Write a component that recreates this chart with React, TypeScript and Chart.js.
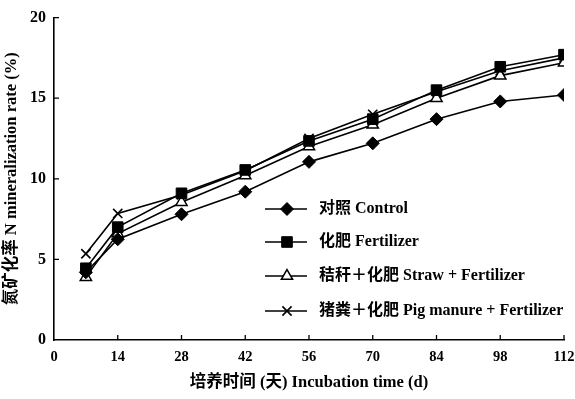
import React, { useEffect, useRef } from "react";
import { Chart, registerables } from "chart.js";

Chart.register(...registerables);

const days = [7, 14, 28, 42, 56, 70, 84, 98, 112];
const xTicks = [0, 14, 28, 42, 56, 70, 84, 98, 112];
const yTicks = [0, 5, 10, 15, 20];

const controlValues = [4.2, 6.25, 7.8, 9.2, 11.05, 12.2, 13.7, 14.8, 15.2];
const fertilizerValues = [4.45, 7.0, 9.1, 10.55, 12.35, 13.7, 15.5, 16.95, 17.7];
const strawValues = [3.9, 6.6, 8.55, 10.2, 12.0, 13.35, 15.0, 16.4, 17.2];
const pigValues = [5.35, 7.85, 9.0, 10.5, 12.5, 14.0, 15.4, 16.7, 17.5];

const seriesLabels = [
  "对照 Control",
  "化肥 Fertilizer",
  "秸秆＋化肥 Straw + Fertilizer",
  "猪粪＋化肥 Pig manure + Fertilizer",
];

const xTitle = "培养时间 (天) Incubation time (d)";
const yTitle = "氮矿化率 N mineralization rate (%)";

const FONT = "'Liberation Serif', 'Noto Sans CJK SC', serif";

const toPoints = (vals: number[]) => days.map((d, i) => ({ x: d, y: vals[i] }));

const innerTicks = {
  id: "innerTicks",
  afterDraw(chart: any) {
    const ctx = chart.ctx;
    const { left, bottom } = chart.chartArea;
    const xs = chart.scales.x;
    const ys = chart.scales.y;
    ctx.save();
    ctx.strokeStyle = "#000";
    ctx.lineWidth = 1.3;
    ctx.beginPath();
    xTicks.forEach((t) => {
      if (t === 0) return;
      const px = xs.getPixelForValue(t);
      ctx.moveTo(px, bottom);
      ctx.lineTo(px, bottom - 5);
    });
    yTicks.forEach((t) => {
      if (t === 0) return;
      const py = ys.getPixelForValue(t);
      ctx.moveTo(left, py);
      ctx.lineTo(left + 5, py);
    });
    ctx.stroke();
    ctx.restore();
  },
};

function drawMarker(ctx: CanvasRenderingContext2D, ds: any, x: number, y: number) {
  const r = ds.pointRadius;
  ctx.save();
  ctx.lineWidth = ds.pointBorderWidth;
  ctx.strokeStyle = "#000";
  ctx.fillStyle = ds.pointBackgroundColor;
  ctx.beginPath();
  if (ds.pointStyle === "rectRot") {
    ctx.moveTo(x - r, y);
    ctx.lineTo(x, y - r);
    ctx.lineTo(x + r, y);
    ctx.lineTo(x, y + r);
    ctx.closePath();
    ctx.fill();
    ctx.stroke();
  } else if (ds.pointStyle === "rect") {
    const s = Math.SQRT1_2 * r;
    ctx.rect(x - s, y - s, 2 * s, 2 * s);
    ctx.fill();
    ctx.stroke();
  } else if (ds.pointStyle === "triangle") {
    ctx.moveTo(x, y - r);
    ctx.lineTo(x + r * 0.866, y + r * 0.5);
    ctx.lineTo(x - r * 0.866, y + r * 0.5);
    ctx.closePath();
    ctx.fill();
    ctx.stroke();
  } else {
    const s = Math.SQRT1_2 * r;
    ctx.moveTo(x - s, y - s);
    ctx.lineTo(x + s, y + s);
    ctx.moveTo(x + s, y - s);
    ctx.lineTo(x - s, y + s);
    ctx.stroke();
  }
  ctx.restore();
}

const insideLegend = {
  id: "insideLegend",
  afterDraw(chart: any) {
    const ctx = chart.ctx;
    const rows = [209, 242, 276, 311];
    const x0 = 265;
    const x1 = 307;
    const mx = 287;
    const tx = 319;
    ctx.save();
    chart.data.datasets.forEach((ds: any, i: number) => {
      const y = rows[i];
      ctx.strokeStyle = "#000";
      ctx.lineWidth = 1.5;
      ctx.beginPath();
      ctx.moveTo(x0, y);
      ctx.lineTo(x1, y);
      ctx.stroke();
      drawMarker(ctx, ds, mx, y);
      ctx.fillStyle = "#000";
      ctx.font = `bold 16px ${FONT}`;
      ctx.textBaseline = "middle";
      ctx.textAlign = "left";
      ctx.fillText(ds.label, tx, y);
    });
    ctx.restore();
  },
};

export default function App() {
  const ref = useRef<HTMLCanvasElement>(null);
  useEffect(() => {
    if (!ref.current) return;
    const common = {
      borderColor: "#000",
      borderWidth: 1.6,
      pointBorderColor: "#000",
      tension: 0,
    };
    const chart = new Chart(ref.current, {
      type: "line",
      data: {
        datasets: [
          {
            ...common,
            label: seriesLabels[0],
            data: toPoints(controlValues),
            pointStyle: "rectRot",
            pointRadius: 6.5,
            pointBackgroundColor: "#000",
            pointBorderWidth: 1,
          },
          {
            ...common,
            label: seriesLabels[1],
            data: toPoints(fertilizerValues),
            pointStyle: "rect",
            pointRadius: 7.5,
            pointBackgroundColor: "#000",
            pointBorderWidth: 1,
          },
          {
            ...common,
            label: seriesLabels[2],
            data: toPoints(strawValues),
            pointStyle: "triangle",
            pointRadius: 6.5,
            pointBackgroundColor: "#fff",
            pointBorderWidth: 1.5,
          },
          {
            ...common,
            label: seriesLabels[3],
            data: toPoints(pigValues),
            pointStyle: "crossRot",
            pointRadius: 6.5,
            pointBackgroundColor: "#000",
            pointBorderWidth: 1.6,
          },
        ] as any,
      },
      options: {
        animation: false,
        responsive: false,
        maintainAspectRatio: false,
        layout: { padding: { top: 17, right: 0, left: 0, bottom: 0 } },
        plugins: {
          legend: { display: false },
          tooltip: { enabled: false },
        },
        scales: {
          x: {
            type: "linear",
            min: 0,
            max: 112,
            afterBuildTicks: (scale: any) => {
              scale.ticks = xTicks.map((v) => ({ value: v }));
            },
            afterFit: (scale: any) => {
              scale.height = 59;
              scale.paddingRight = 11;
            },
            grid: { display: false, drawTicks: false },
            border: { display: true, color: "#000", width: 1.6 },
            ticks: {
              color: "#000",
              padding: 9,
              font: { family: FONT, weight: "bold", size: 14.5 },
              maxRotation: 0,
              autoSkip: false,
            },
            title: {
              display: true,
              text: xTitle,
              color: "#000",
              font: { family: FONT, weight: "bold", size: 16.5 },
              padding: { top: 0, bottom: 6 },
            },
          },
          y: {
            type: "linear",
            min: 0,
            max: 20,
            afterBuildTicks: (scale: any) => {
              scale.ticks = yTicks.map((v) => ({ value: v }));
            },
            afterFit: (scale: any) => {
              scale.width = 54;
            },
            grid: { display: false, drawTicks: false },
            border: { display: true, color: "#000", width: 1.6 },
            ticks: {
              color: "#000",
              padding: 8,
              font: { family: FONT, weight: "bold", size: 16 },
            },
            title: {
              display: true,
              text: yTitle,
              color: "#000",
              font: { family: FONT, weight: "bold", size: 16.5 },
              padding: { top: 2, bottom: 0 },
            },
          },
        },
      } as any,
      plugins: [innerTicks, insideLegend],
    });
    return () => chart.destroy();
  }, []);
  return (
    <div style={{ position: "fixed", left: 0, top: 0, width: 575, height: 399, background: "#fff" }}>
      <canvas ref={ref} width={575} height={399} style={{ width: 575, height: 399 }} />
    </div>
  );
}
